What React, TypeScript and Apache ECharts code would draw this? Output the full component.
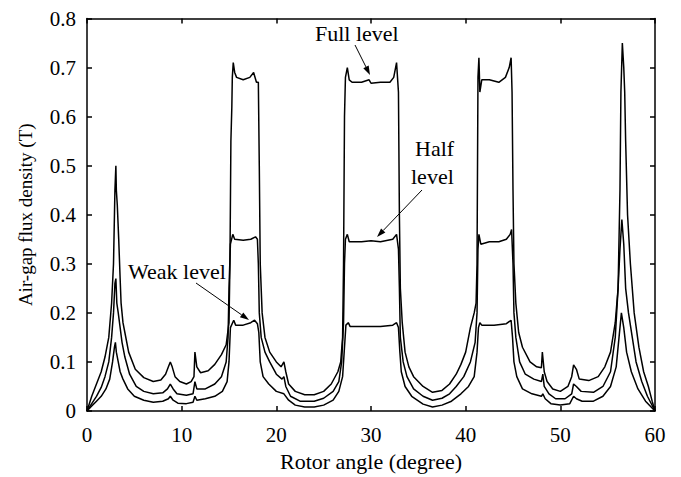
import React, { useEffect, useRef } from "react";
import * as echarts from "echarts";

const xTicks = [0, 10, 20, 30, 40, 50, 60];
const yTicks = [0, 0.1, 0.2, 0.3, 0.4, 0.5, 0.6, 0.7, 0.8];

const fullLevel: [number, number][] = [
  [0, 0], [0.5, 0.03], [1, 0.055], [1.5, 0.08], [1.9, 0.11], [2.3, 0.15], [2.6, 0.22], [2.8, 0.3], [2.95, 0.45], [3.05, 0.5],
  [3.1, 0.45], [3.2, 0.42], [3.35, 0.35], [3.5, 0.27], [3.6, 0.22], [3.8, 0.18], [4.0, 0.16], [4.4, 0.12], [5.1, 0.085],
  [6, 0.068], [7, 0.06], [7.8, 0.063], [8.3, 0.075], [8.6, 0.09], [8.8, 0.1], [9.0, 0.09], [9.3, 0.07], [9.8, 0.06],
  [10.5, 0.055], [11, 0.06], [11.3, 0.07], [11.4, 0.12], [11.6, 0.09], [12, 0.078], [12.8, 0.082], [13.5, 0.095],
  [14.2, 0.115], [14.7, 0.135], [15.0, 0.18], [15.1, 0.3], [15.2, 0.55], [15.3, 0.62], [15.35, 0.68], [15.45, 0.71],
  [15.6, 0.69], [15.8, 0.68], [16.5, 0.675], [17.2, 0.68], [17.6, 0.69], [17.9, 0.67], [18.1, 0.67], [18.2, 0.5],
  [18.3, 0.3], [18.5, 0.2], [18.8, 0.15], [19.3, 0.12], [20, 0.1], [20.5, 0.09], [20.8, 0.1], [21, 0.08], [21.3, 0.055],
  [22, 0.04], [23, 0.033], [24, 0.033], [25, 0.04], [25.8, 0.055], [26.5, 0.08], [26.8, 0.1], [27, 0.15], [27.1, 0.3],
  [27.2, 0.6], [27.3, 0.68], [27.5, 0.7], [27.7, 0.675], [28, 0.67], [29, 0.67], [29.8, 0.675], [30, 0.668], [31, 0.67],
  [32, 0.67], [32.4, 0.68], [32.7, 0.71], [32.9, 0.65], [33.0, 0.4], [33.1, 0.25], [33.3, 0.18], [33.6, 0.12], [34, 0.09],
  [34.5, 0.07], [35.5, 0.05], [36.5, 0.038], [37.5, 0.042], [38.3, 0.055], [39, 0.075], [39.5, 0.095], [40, 0.12],
  [40.5, 0.17], [40.9, 0.2], [41.1, 0.22], [41.2, 0.3], [41.3, 0.68], [41.4, 0.72], [41.5, 0.65], [41.7, 0.675],
  [42.5, 0.675], [43.5, 0.67], [44.2, 0.68], [44.6, 0.7], [44.8, 0.72], [44.9, 0.65], [45.0, 0.45], [45.1, 0.3],
  [45.3, 0.22], [45.6, 0.16], [46, 0.13], [46.8, 0.1], [47.5, 0.09], [48, 0.088], [48.1, 0.12], [48.3, 0.08],
  [48.6, 0.06], [49.2, 0.045], [50, 0.04], [50.8, 0.05], [51.2, 0.07], [51.4, 0.094], [51.7, 0.085], [52, 0.065],
  [53, 0.062], [54, 0.07], [54.7, 0.09], [55.3, 0.12], [55.8, 0.18], [56.1, 0.25], [56.3, 0.45], [56.4, 0.65],
  [56.55, 0.75], [56.7, 0.7], [56.8, 0.65], [56.9, 0.55], [57.1, 0.4], [57.4, 0.3], [57.8, 0.2], [58.3, 0.13],
  [58.8, 0.08], [59.3, 0.05], [59.7, 0.02], [60, 0],
];

const halfLevel: [number, number][] = [
  [0, 0], [0.5, 0.015], [1, 0.03], [1.5, 0.048], [1.9, 0.07], [2.3, 0.1], [2.6, 0.15], [2.8, 0.2], [2.95, 0.26],
  [3.05, 0.27], [3.15, 0.22], [3.3, 0.2], [3.5, 0.17], [3.7, 0.14], [4, 0.11], [4.5, 0.075], [5.2, 0.05], [6, 0.04],
  [7, 0.035], [8, 0.037], [8.5, 0.045], [8.8, 0.055], [9.1, 0.045], [9.5, 0.035], [10.5, 0.032], [11.2, 0.035],
  [11.4, 0.06], [11.6, 0.045], [12.5, 0.045], [13.5, 0.055], [14.2, 0.07], [14.7, 0.1], [14.9, 0.15], [15.0, 0.25],
  [15.15, 0.34], [15.4, 0.36], [15.6, 0.35], [16.5, 0.348], [17.3, 0.35], [17.8, 0.355], [18.0, 0.35], [18.1, 0.3],
  [18.2, 0.2], [18.4, 0.15], [18.8, 0.12], [19.3, 0.1], [20, 0.075], [20.6, 0.065], [20.8, 0.07], [21, 0.05],
  [21.5, 0.03], [22.5, 0.02], [24, 0.02], [25, 0.026], [26, 0.04], [26.6, 0.06], [26.9, 0.1], [27.1, 0.18], [27.2, 0.3],
  [27.3, 0.35], [27.5, 0.36], [27.7, 0.345], [29, 0.345], [30, 0.347], [31, 0.345], [32.3, 0.35], [32.7, 0.36],
  [32.9, 0.33], [33.0, 0.25], [33.1, 0.15], [33.4, 0.1], [33.8, 0.07], [34.5, 0.045], [35.5, 0.03], [36.5, 0.022],
  [37.5, 0.026], [38.3, 0.035], [39, 0.05], [39.8, 0.07], [40.5, 0.1], [41, 0.14], [41.2, 0.2], [41.3, 0.33],
  [41.4, 0.36], [41.6, 0.34], [42.5, 0.345], [43.5, 0.345], [44.3, 0.35], [44.7, 0.36], [44.85, 0.37], [45, 0.3],
  [45.1, 0.2], [45.3, 0.15], [45.7, 0.1], [46.3, 0.075], [47.2, 0.065], [48, 0.06], [48.15, 0.075], [48.3, 0.05],
  [48.8, 0.035], [49.5, 0.025], [50.5, 0.025], [51.2, 0.035], [51.4, 0.055], [51.7, 0.05], [52.2, 0.04],
  [53.5, 0.038], [54.5, 0.05], [55.3, 0.08], [55.8, 0.15], [56.1, 0.25], [56.3, 0.33], [56.5, 0.39], [56.7, 0.34],
  [56.9, 0.25], [57.2, 0.2], [57.6, 0.15], [58, 0.1], [58.6, 0.06], [59.2, 0.03], [60, 0],
];

const weakLevel: [number, number][] = [
  [0, 0], [0.5, 0.01], [1, 0.02], [1.5, 0.03], [2, 0.045], [2.4, 0.065], [2.7, 0.1], [2.9, 0.13], [3.0, 0.14],
  [3.1, 0.12], [3.3, 0.1], [3.5, 0.08], [3.8, 0.065], [4.3, 0.045], [5, 0.03], [6, 0.022], [7, 0.018], [8, 0.02],
  [8.6, 0.025], [8.8, 0.03], [9.1, 0.022], [9.6, 0.016], [10.5, 0.015], [11.2, 0.018], [11.4, 0.03], [11.6, 0.022],
  [12.5, 0.025], [13.5, 0.03], [14.3, 0.04], [14.8, 0.06], [15.0, 0.1], [15.15, 0.17], [15.5, 0.185], [15.7, 0.175],
  [16.5, 0.175], [17.3, 0.18], [17.7, 0.185], [18.0, 0.178], [18.15, 0.16], [18.3, 0.1], [18.6, 0.07], [19.2, 0.055],
  [20, 0.04], [20.8, 0.035], [21.3, 0.022], [22, 0.012], [23, 0.008], [24, 0.008], [25, 0.012], [26, 0.022],
  [26.6, 0.04], [27, 0.07], [27.2, 0.13], [27.35, 0.175], [27.6, 0.18], [27.8, 0.172], [29, 0.172], [31, 0.172],
  [32.3, 0.175], [32.7, 0.18], [32.9, 0.17], [33.05, 0.12], [33.2, 0.08], [33.6, 0.05], [34.3, 0.03], [35.5, 0.014],
  [36.5, 0.008], [37.5, 0.012], [38.5, 0.02], [39.5, 0.035], [40.3, 0.05], [40.9, 0.07], [41.2, 0.12], [41.35, 0.17],
  [41.5, 0.18], [41.7, 0.175], [43, 0.175], [44.3, 0.178], [44.8, 0.185], [44.95, 0.15], [45.1, 0.1], [45.4, 0.07],
  [46, 0.045], [47, 0.035], [48, 0.03], [48.15, 0.035], [48.4, 0.025], [49, 0.015], [50, 0.012], [51, 0.015],
  [51.4, 0.03], [51.7, 0.025], [52.3, 0.02], [53.5, 0.02], [54.5, 0.03], [55.3, 0.05], [55.9, 0.09], [56.2, 0.15],
  [56.45, 0.2], [56.7, 0.17], [57, 0.12], [57.5, 0.08], [58.2, 0.045], [59, 0.02], [60, 0],
];

const FONT = '"Liberation Serif", "Times New Roman", serif';

function arrow(x1: number, y1: number, x2: number, y2: number) {
  const dx = x2 - x1;
  const dy = y2 - y1;
  const len = Math.sqrt(dx * dx + dy * dy);
  const ux = dx / len;
  const uy = dy / len;
  const hl = 9;
  const hw = 3;
  const bx = x2 - ux * hl;
  const by = y2 - uy * hl;
  return [
    { type: "line", shape: { x1, y1, x2: bx, y2: by }, style: { stroke: "#000", lineWidth: 1 } },
    {
      type: "polygon",
      shape: {
        points: [
          [x2, y2],
          [bx - uy * hw, by + ux * hw],
          [bx + uy * hw, by - ux * hw],
        ],
      },
      style: { fill: "#000" },
    },
  ];
}

export default function App() {
  const ref = useRef<HTMLDivElement>(null);
  useEffect(() => {
    if (!ref.current) return;
    const chart = echarts.init(ref.current, null, { renderer: "svg" });
    const lineStyle = { color: "#000", width: 1.5 };
    const mkSeries = (name: string, data: [number, number][]) => ({
      name,
      type: "line",
      data,
      showSymbol: false,
      symbol: "none",
      lineStyle,
      xAxisIndex: 0,
      yAxisIndex: 0,
    });
    const axisCommon = {
      axisLine: { show: true, onZero: false, lineStyle: { color: "#000", width: 1.5 } },
      axisTick: { show: true, inside: true, length: 5, lineStyle: { color: "#000", width: 1.5 } },
      splitLine: { show: false },
    };
    chart.setOption({
      animation: false,
      backgroundColor: "#fff",
      grid: { left: 79, right: 26, top: 4, bottom: 65 },
      xAxis: [
        {
          type: "value",
          min: xTicks[0],
          max: xTicks[xTicks.length - 1],
          interval: 10,
          position: "bottom",
          name: "Rotor angle (degree)",
          nameLocation: "middle",
          nameGap: 39,
          nameTextStyle: { fontFamily: FONT, fontSize: 22, color: "#000" },
          axisLabel: { fontFamily: FONT, fontSize: 21, color: "#000", margin: 13 },
          ...axisCommon,
        },
        {
          type: "value",
          min: xTicks[0],
          max: xTicks[xTicks.length - 1],
          interval: 10,
          position: "top",
          axisLabel: { show: false },
          ...axisCommon,
        },
      ],
      yAxis: [
        {
          type: "value",
          min: yTicks[0],
          max: yTicks[yTicks.length - 1],
          interval: 0.1,
          position: "left",
          name: "Air-gap flux density (T)",
          nameLocation: "middle",
          nameGap: 52,
          nameRotate: 90,
          nameTextStyle: { fontFamily: FONT, fontSize: 19, color: "#000" },
          axisLabel: {
            fontFamily: FONT,
            fontSize: 21,
            color: "#000",
            margin: 11,
            formatter: (v: number) => (v === 0 ? "0" : v.toFixed(1)),
          },
          ...axisCommon,
        },
        {
          type: "value",
          min: yTicks[0],
          max: yTicks[yTicks.length - 1],
          interval: 0.1,
          position: "right",
          axisLabel: { show: false },
          ...axisCommon,
        },
      ],
      series: [
        mkSeries("Full level", fullLevel),
        mkSeries("Half level", halfLevel),
        mkSeries("Weak level", weakLevel),
      ],
      graphic: [
        {
          type: "text",
          left: 307,
          top: 14,
          style: { text: "Full level", font: `22px ${FONT}`, fill: "#000" },
        },
        ...arrow(347, 37, 362, 67),
        {
          type: "text",
          left: 407,
          top: 129,
          style: { text: "Half", font: `22px ${FONT}`, fill: "#000" },
        },
        {
          type: "text",
          left: 403,
          top: 157,
          style: { text: "level", font: `22px ${FONT}`, fill: "#000" },
        },
        ...arrow(414, 182, 369, 229),
        {
          type: "text",
          left: 120,
          top: 252,
          style: { text: "Weak level", font: `22px ${FONT}`, fill: "#000" },
        },
        ...arrow(188, 275, 241, 312),
      ],
    });
    return () => chart.dispose();
  }, []);
  return <div ref={ref} style={{ width: 673, height: 469 }} />;
}
